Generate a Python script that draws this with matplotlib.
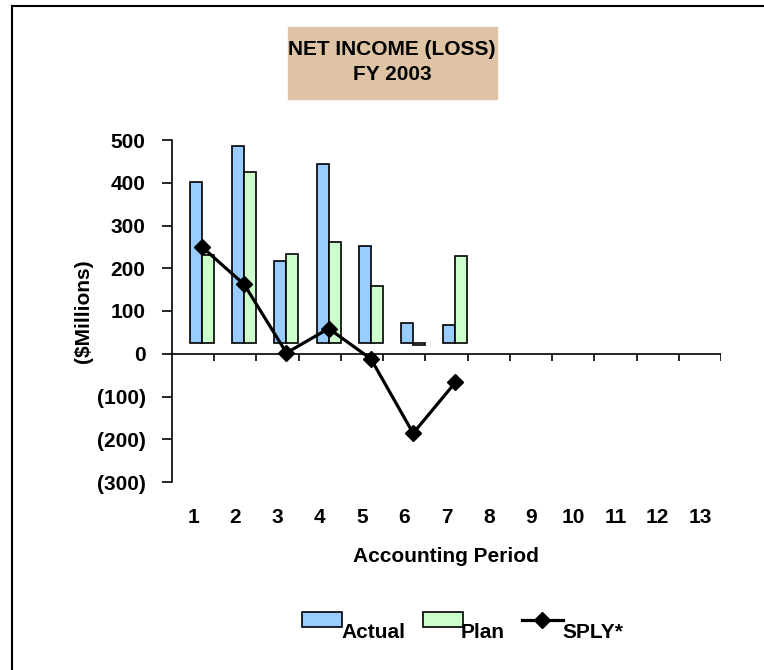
import matplotlib
matplotlib.use("Agg")
import matplotlib.pyplot as plt
from matplotlib.patches import Rectangle
from matplotlib.lines import Line2D
import numpy as np

# data
periods = [str(p) for p in range(1, 14)]
actual = [402, 487, 217, 444, 251, 71, 67]
plan = [232, 424, 234, 262, 159, 20, 228]
sply = [250, 162, 2, 59, -12, -186, -67]
yticks = [-300, -200, -100, 0, 100, 200, 300, 400, 500]
ytick_labels = ["(300)", "(200)", "(100)", "0", "100", "200", "300", "400", "500"]

actualColor = "#99CCFF"
planColor = "#CCFFCC"
boxColor = "#DEC4A4"
base = 25  # excel draws the columns from here
plt.rcParams["font.family"] = ["Liberation Sans", "DejaVu Sans"]
plt.rcParams["font.weight"] = "bold"

fig = plt.figure(figsize=(7.64, 6.70), dpi=100)
W, H = 764, 670
ax = fig.add_axes([172 / W, 1 - 482 / H, 549 / W, 342 / H])

n = len(actual)
x = np.arange(n)
bw = 0.285
ax.bar(x + 0.71 - bw / 2, np.array(actual) - base, bw, bottom=base,
       color=actualColor, edgecolor="black", lw=1.2, zorder=2)
ax.bar(x + 0.71 + bw / 2, np.array(plan) - base, bw, bottom=base,
       color=planColor, edgecolor="black", lw=1.2, zorder=2)
ax.plot(x + 0.71, sply, "-", color="black", lw=2.3, marker="D",
        markersize=8, zorder=4)

ax.set_xlim(0, 13)
ax.set_ylim(-300, 500)
ax.set_yticks(yticks)
ax.set_yticklabels(ytick_labels)
ax.set_xticks(np.arange(13) + 0.5)
ax.set_xticklabels(periods)
ax.tick_params(axis="x", length=0, pad=19, labelsize=15)
ax.tick_params(axis="y", length=7, width=1.2, pad=12, labelsize=15)
for s in ["top", "right", "bottom"]:
    ax.spines[s].set_visible(False)
ax.spines["left"].set_linewidth(1.2)

# category axis at zero with boundary ticks below it
ax.axhline(0, color="black", lw=1.2, zorder=3)
ax.vlines(np.arange(1, 14), -17, 0, color="black", lw=1.2, zorder=3)

fig.text(84 / W, 1 - 311 / H, "($Millions)", rotation=90, ha="center",
         va="center", fontsize=15, fontweight="bold")
fig.text(446 / W, 1 - 556 / H, "Accounting Period", ha="center",
         va="center", fontsize=15, fontweight="bold")

# title box
fig.patches.append(Rectangle((288 / W, 1 - 99 / H), 209 / W, 72 / H,
                             transform=fig.transFigure, color=boxColor,
                             zorder=0))
fig.text(392 / W, 1 - 62 / H, "NET INCOME (LOSS)\nFY 2003", ha="center",
         va="center", fontsize=15, fontweight="bold", linespacing=1.35)

# legend, built by hand like the excel one
fig.patches.append(Rectangle((302 / W, 1 - 627 / H), 40 / W, 15 / H,
                             transform=fig.transFigure, facecolor=actualColor,
                             edgecolor="black", lw=1.2))
fig.text(341 / W, 1 - 638 / H, "Actual", fontsize=15, fontweight="bold")
fig.patches.append(Rectangle((423 / W, 1 - 627 / H), 40 / W, 15 / H,
                             transform=fig.transFigure, facecolor=planColor,
                             edgecolor="black", lw=1.2))
fig.text(461 / W, 1 - 638 / H, "Plan", fontsize=15, fontweight="bold")
fig.lines.append(Line2D([522 / W, 563 / W], [1 - 620 / H, 1 - 620 / H],
                        transform=fig.transFigure, color="black", lw=2.3))
fig.lines.append(Line2D([542 / W], [1 - 620 / H], transform=fig.transFigure,
                        marker="D", markersize=8, color="black"))
fig.text(562 / W, 1 - 638 / H, "SPLY*", fontsize=15, fontweight="bold")

# chart area border (top and left visible)
fig.lines.append(Line2D([12 / W, 1], [1 - 6 / H, 1 - 6 / H],
                        transform=fig.transFigure, color="black", lw=1.5))
fig.lines.append(Line2D([12 / W, 12 / W], [0, 1 - 6 / H],
                        transform=fig.transFigure, color="black", lw=1.5))

fig.savefig("out.png", dpi=100, facecolor="white")
